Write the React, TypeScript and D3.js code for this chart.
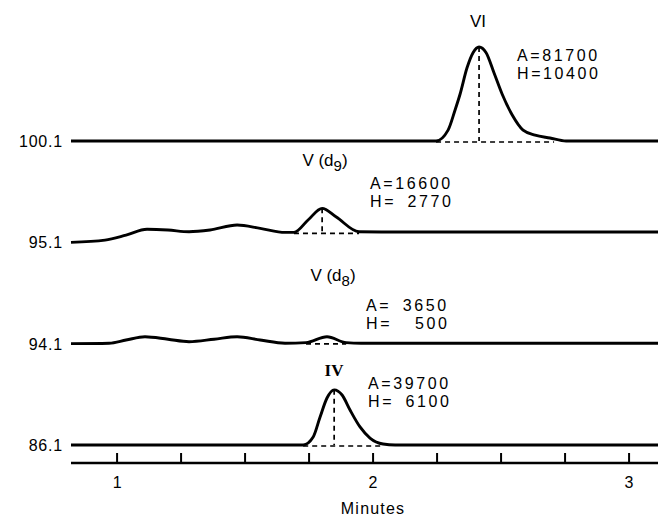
import React from "react";
import * as d3 from "d3";

const W = 658;
const H = 524;

// recorded window in minutes (left end of traces to right edge)
const timeWindow: [number, number] = [0.82, 3.113];
const tickMinutes = [1, 1.25, 1.5, 1.75, 2, 2.25, 2.5, 2.75, 3];
const labelledMinutes = [1, 2, 3];

// m/z of each ion trace, top to bottom
const laneLabels = ["100.1", "95.1", "94.1", "86.1"];

// [minutes, counts above the start of the trace]
const traceVI: [number, number][] = [
  [0.82, 0], [2.2, 0], [2.246, 0], [2.293, 1200], [2.32, 3400], [2.34, 5200],
  [2.367, 8100], [2.391, 9800], [2.414, 10400], [2.441, 9800], [2.473, 7500],
  [2.504, 5200], [2.543, 2900], [2.586, 1200], [2.633, 650], [2.691, 330],
  [2.754, 0], [3.113, 0],
];
const traceD9: [number, number][] = [
  [0.82, 0], [0.953, 250], [1.035, 800], [1.117, 1440], [1.199, 1360],
  [1.281, 1170], [1.363, 1360], [1.469, 1910], [1.559, 1550], [1.656, 1100],
  [1.691, 1100], [1.746, 2470], [1.801, 3760], [1.855, 2830], [1.945, 1170],
  [2.105, 1140], [3.113, 1140],
];
const traceD8: [number, number][] = [
  [0.82, 0], [0.969, 50], [1.035, 400], [1.109, 770], [1.199, 490],
  [1.281, 220], [1.379, 490], [1.469, 770], [1.559, 410], [1.656, 50],
  [1.738, 110], [1.82, 770], [1.895, 110], [1.953, 50], [3.113, 50],
];
const traceIV: [number, number][] = [
  [0.82, 0], [1.727, 0], [1.766, 880], [1.793, 3100], [1.82, 5200],
  [1.848, 6100], [1.879, 5530], [1.91, 3870], [1.949, 2000], [1.988, 770],
  [2.039, 110], [2.086, 0], [3.113, 0],
];
const traces = [traceVI, traceD9, traceD8, traceIV];

// integrated peaks
const peakNames = ["VI", "V (d", "V (d", "IV"];
const peakSubs = ["", "9", "8", ""];
const peakAreas = [81700, 16600, 3650, 39700];
const peakHeights = [10400, 2770, 500, 6100];
const peakApex = [2.414, 1.801, 1.82, 1.848];
const peakStart = [2.246, 1.691, 1.738, 1.727];
const peakEnd = [2.707, 1.945, 1.895, 2.039];
const peakBase = [0, 1100, 80, 0];

// label layout (px)
const nameX = [478, 325, 333, 334];
const nameY = [27, 166, 281, 376];
const annX = [517, 370, 366, 368];
const annY = [61, 189, 311, 389];
const sans = "'Liberation Sans', Arial, Helvetica, sans-serif";
const serif = "'Liberation Serif', 'Times New Roman', serif";

// digits are padded with figure spaces so they line up on the right
const padded = (label: string, v: number) =>
  label + "=" + "\u2007".repeat(Math.max(0, 5 - String(v).length)) + v;

export default function App() {
  const x = d3.scaleLinear().domain(timeWindow).range([71, W]);
  const lane = d3.scalePoint<string>().domain(laneLabels).range([141, 445]);
  const k = d3.scaleLinear().domain([0, 10400]).range([0, 94]);
  const axisY = 463;

  const lineFor = (i: number) =>
    d3
      .line<[number, number]>()
      .x((d) => x(d[0]))
      .y((d) => (lane(laneLabels[i]) as number) - k(d[1]))
      .curve(d3.curveMonotoneX);

  return (
    <svg
      width={W}
      height={H}
      style={{ position: "absolute", left: 0, top: 0, background: "#fff" }}
    >
      {traces.map((tr, i) => {
        const ly = lane(laneLabels[i]) as number;
        return (
          <g key={i}>
            <text
              x={63}
              y={ly + 6}
              textAnchor="end"
              fontFamily={sans}
              fontSize={16}
              letterSpacing={0.8}
            >
              {laneLabels[i]}
            </text>
            <path
              d={lineFor(i)(tr) || ""}
              fill="none"
              stroke="#000"
              strokeWidth={2.9}
              strokeLinejoin="round"
            />
          </g>
        );
      })}

      {peakNames.map((name, i) => {
        const ly = lane(laneLabels[i]) as number;
        const apex = traces[i].find((p) => p[0] === peakApex[i]);
        const baseY = ly - k(peakBase[i]);
        return (
          <g key={"p" + i}>
            <line
              x1={x(peakStart[i])}
              x2={x(peakEnd[i])}
              y1={baseY + 1}
              y2={baseY + 1}
              stroke="#000"
              strokeWidth={1.7}
              strokeDasharray="5 4"
            />
            {i !== 2 && apex && (
              <line
                x1={x(peakApex[i])}
                x2={x(peakApex[i])}
                y1={ly - k(apex[1])}
                y2={baseY}
                stroke="#000"
                strokeWidth={1.7}
                strokeDasharray="5 4"
              />
            )}
            <text
              x={nameX[i]}
              y={nameY[i]}
              textAnchor="middle"
              fontFamily={i === 3 ? serif : sans}
              fontSize={17}
              fontWeight={i === 3 ? 700 : 400}
            >
              {name}
              {peakSubs[i] && (
                <>
                  <tspan dy={5} fontSize={15}>
                    {peakSubs[i]}
                  </tspan>
                  <tspan dy={-5}>)</tspan>
                </>
              )}
            </text>
            <g fontFamily={sans} fontSize={16} letterSpacing={2.6}>
              <text x={annX[i]} y={annY[i]} style={{ whiteSpace: "pre" }}>
                {padded("A", peakAreas[i])}
              </text>
              <text x={annX[i]} y={annY[i] + 18} style={{ whiteSpace: "pre" }}>
                {padded("H", peakHeights[i])}
              </text>
            </g>
          </g>
        );
      })}

      <line
        x1={x(timeWindow[0])}
        x2={x(timeWindow[1])}
        y1={axisY}
        y2={axisY}
        stroke="#000"
        strokeWidth={2.6}
      />
      {tickMinutes.map((t) => (
        <line
          key={t}
          x1={x(t)}
          x2={x(t)}
          y1={axisY}
          y2={axisY - 10}
          stroke="#000"
          strokeWidth={2}
        />
      ))}
      {labelledMinutes.map((t) => (
        <text
          key={"l" + t}
          x={x(t)}
          y={axisY + 25}
          textAnchor="middle"
          fontFamily={sans}
          fontSize={16}
        >
          {t}
        </text>
      ))}
      <text
        x={x(2)}
        y={514}
        textAnchor="middle"
        fontFamily={sans}
        fontSize={16}
        letterSpacing={1.2}
      >
        Minutes
      </text>
    </svg>
  );
}
